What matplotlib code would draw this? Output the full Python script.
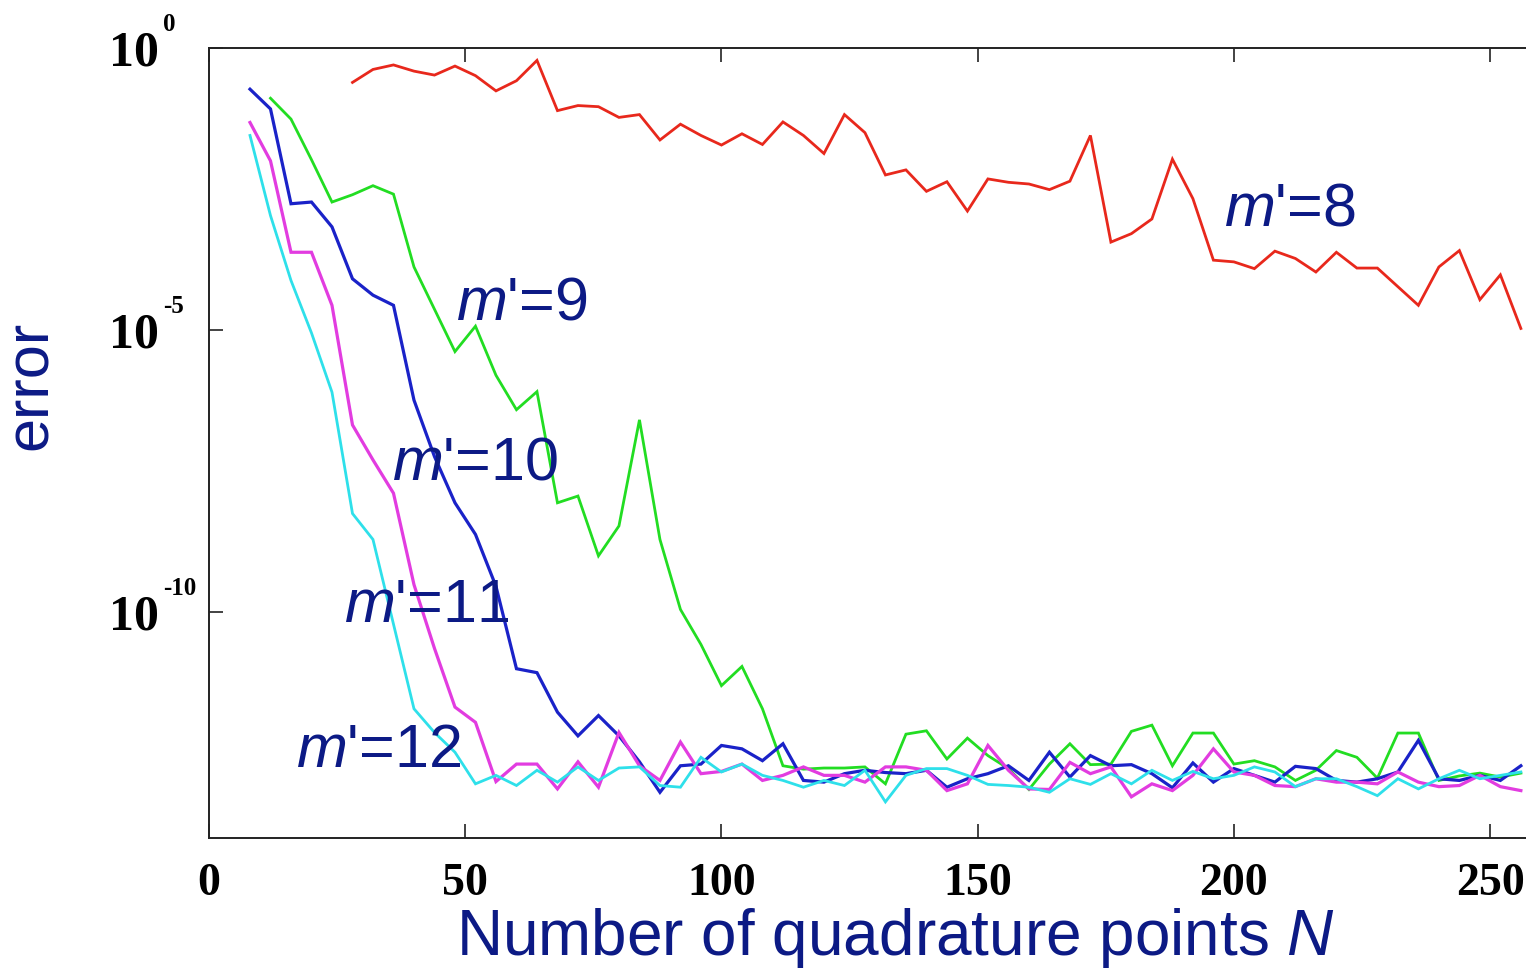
import numpy as np
import matplotlib
matplotlib.use("Agg")
import matplotlib.pyplot as plt

plt.rcParams['mathtext.fontset'] = 'custom'
plt.rcParams['mathtext.it'] = 'Liberation Sans:italic'
plt.rcParams['mathtext.rm'] = 'Liberation Sans'
plt.rcParams['font.family'] = ['Liberation Sans', 'DejaVu Sans']

# ---- data (log10 of the error) ----
N_red = list(range(28, 257, 4))
logerr_m8 = [-0.61, -0.38, -0.30, -0.41, -0.48, -0.32, -0.49, -0.76, -0.58, -0.22,
             -1.11, -1.02, -1.04, -1.23, -1.18, -1.63, -1.35, -1.55, -1.72, -1.52,
             -1.71, -1.31, -1.55, -1.87, -1.18, -1.50, -2.25, -2.16, -2.54, -2.37,
             -2.89, -2.32, -2.38, -2.41, -2.51, -2.36, -1.55, -3.44, -3.29, -3.03,
             -1.97, -2.67, -3.76, -3.79, -3.91, -3.60, -3.73, -3.97, -3.62, -3.90,
             -3.90, -4.23, -4.56, -3.88, -3.59, -4.46, -4.02, -4.97]

N_green = list(range(12, 257, 4))
logerr_m9 = [-0.89, -1.26, -1.98, -2.73, -2.60, -2.44, -2.59, -3.88, -4.63, -5.38,
             -4.93, -5.80, -6.41, -6.09, -8.06, -7.94, -9.00, -8.47, -6.59, -8.71,
             -9.95, -10.57, -11.30, -10.96, -11.71, -12.72, -12.78, -12.76, -12.76, -12.74,
             -13.04, -12.16, -12.10, -12.60, -12.23, -12.54, -12.77, -13.14, -12.69, -12.33,
             -12.70, -12.69, -12.11, -12.00, -12.72, -12.14, -12.14, -12.69, -12.63, -12.74,
             -12.98, -12.80, -12.45, -12.57, -12.94, -12.14, -12.14, -12.98, -12.90, -12.85,
             -12.92, -12.85]

N_full = list(range(8, 257, 4))
logerr_m10 = [-0.73, -1.08, -2.76, -2.73, -3.17, -4.09, -4.38, -4.56, -6.24, -7.24,
              -8.06, -8.62, -9.54, -11.00, -11.07, -11.77, -12.19, -11.83, -12.19, -12.65,
              -13.19, -12.72, -12.69, -12.36, -12.42, -12.63, -12.33, -12.98, -13.01, -12.86,
              -12.80, -12.84, -12.86, -12.80, -13.10, -12.95, -12.86, -12.72, -12.98, -12.48,
              -12.92, -12.54, -12.72, -12.70, -12.86, -13.11, -12.67, -13.01, -12.77, -12.89,
              -13.01, -12.73, -12.77, -12.98, -13.01, -12.95, -12.83, -12.27, -12.95, -12.98,
              -12.89, -12.98, -12.72]
logerr_m11 = [-1.32, -2.00, -3.62, -3.62, -4.56, -6.68, -7.30, -7.89, -9.51, -10.64,
              -11.68, -11.95, -13.00, -12.69, -12.69, -13.13, -12.65, -13.10, -12.13, -12.72,
              -12.98, -12.30, -12.86, -12.82, -12.69, -12.98, -12.89, -12.74, -12.89, -12.89,
              -13.01, -12.74, -12.74, -12.80, -13.16, -13.04, -12.36, -12.80, -13.13, -13.14,
              -12.66, -12.86, -12.74, -13.27, -13.04, -13.16, -12.89, -12.42, -12.83, -12.89,
              -13.07, -13.09, -12.95, -13.01, -13.01, -13.04, -12.83, -13.01, -13.09, -13.07,
              -12.89, -13.09, -13.16]
logerr_m12 = [-1.55, -2.97, -4.12, -5.05, -6.10, -8.25, -8.71, -10.21, -11.71, -12.13,
              -12.48, -13.04, -12.89, -13.07, -12.80, -13.01, -12.74, -12.98, -12.76, -12.74,
              -13.07, -13.10, -12.57, -12.83, -12.69, -12.89, -12.98, -13.10, -12.98, -13.07,
              -12.80, -13.36, -12.89, -12.77, -12.77, -12.89, -13.05, -13.07, -13.10, -13.19,
              -12.95, -13.05, -12.86, -13.04, -12.80, -12.98, -12.82, -12.95, -12.89, -12.74,
              -12.83, -13.09, -12.95, -12.95, -13.09, -13.25, -12.95, -13.13, -12.95, -12.80,
              -12.95, -12.89, -12.83]

series_labels = ["m'=8", "m'=9", "m'=10", "m'=11", "m'=12"]
label_N = [198.0, 48.2, 35.7, 26.4, 17.0]
label_logerr = [-3.14, -4.82, -7.65, -10.18, -12.74]

x_ticks = [0, 50, 100, 150, 200, 250]
y_tick_exps = [0, -5, -10]

# ---- figure ----
W, H = 1526, 971
fig = plt.figure(figsize=(W / 100, H / 100), dpi=100)
ax = fig.add_axes([209 / W, 1 - 838 / H, (W - 209) / W, (838 - 48) / H])

navy = '#0c1a85'
styles = [
    (N_red, logerr_m8, '#e8281c', 2.0),
    (N_green, logerr_m9, '#22dd22', 2.0),
    (N_full, logerr_m10, '#1a22c8', 2.3),
    (N_full, logerr_m11, '#e23ce0', 2.3),
    (N_full, logerr_m12, '#2ee0ea', 2.0),
]
for xs, ls, c, lw in styles:
    ax.plot(xs, 10.0 ** np.array(ls), color=c, lw=lw, solid_joinstyle='miter')

ax.set_yscale('log')
ax.set_xlim(0, 257)
ax.set_ylim(1e-14, 1.0)

ax.spines['right'].set_visible(False)
for s in ['left', 'top', 'bottom']:
    ax.spines[s].set_linewidth(1.4)
    ax.spines[s].set_color('#222222')

serif_bold = dict(fontfamily='Liberation Serif', fontweight='bold')
ax.set_xticks(x_ticks)
ax.set_xticklabels([str(t) for t in x_ticks], fontsize=33, **serif_bold)
ax.set_yticks([10.0 ** e for e in y_tick_exps])
ax.set_yticklabels(['10' for e in y_tick_exps], fontsize=36, ha='left', **serif_bold)
ax.yaxis.set_minor_locator(matplotlib.ticker.NullLocator())
ax.tick_params(axis='x', which='major', direction='in', length=10, width=1.2,
               top=True, bottom=True, pad=18, colors='#222222', labelcolor='black')
ax.tick_params(axis='y', which='major', direction='in', length=10, width=1.2,
               left=True, right=False, pad=72, colors='#222222', labelcolor='black')
for lbl in ax.get_yticklabels():
    lbl.set_va('center_baseline')

# exponents of the y tick labels
for e in y_tick_exps:
    ax.annotate(str(e), xy=(0, 10.0 ** e), xycoords=('axes fraction', 'data'),
                xytext=(-46, 12), textcoords='offset pixels', ha='left', va='bottom',
                fontsize=18, **serif_bold)

ax.set_xlabel(r"Number of quadrature points $N$", fontsize=46, color=navy)
ax.xaxis.set_label_coords(0.521, -0.086)
ax.set_ylabel("error", fontsize=44, color=navy)
ax.yaxis.set_label_coords(-0.113, 0.573)

for lab, n, le in zip(series_labels, label_N, label_logerr):
    ax.text(n, 10.0 ** le, '$m$' + lab[1:], fontsize=44, color=navy,
            ha='left', va='baseline')

fig.savefig('out.png', dpi=100)
